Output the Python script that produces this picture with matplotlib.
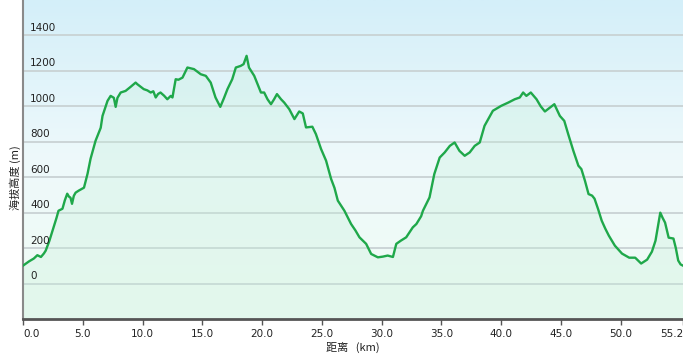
import numpy as np
import matplotlib
matplotlib.use("Agg")
import matplotlib.pyplot as plt
from matplotlib.colors import LinearSegmentedColormap

plt.rcParams['font.family'] = ['DejaVu Sans', 'Noto Sans CJK SC']

# elevation profile (km, m)
dist = [0.0, 0.5, 0.9, 1.2, 1.5, 1.75, 1.9, 2.2, 2.55, 2.8, 2.97, 3.3, 3.5, 3.7,
        3.85, 3.97, 4.1, 4.25, 4.4, 4.65, 4.95, 5.1, 5.4, 5.65, 6.07, 6.5, 6.65,
        7.07, 7.33, 7.6, 7.75, 7.9, 8.17, 8.58, 9.0, 9.42, 9.56, 10.1, 10.4,
        10.68, 10.9, 11.1, 11.3, 11.5, 11.8, 12.07, 12.36, 12.5, 12.77, 13.0,
        13.34, 13.75, 14.3, 14.6, 14.87, 15.29, 15.7, 16.1, 16.5, 16.8, 17.1,
        17.5, 17.8, 18.2, 18.45, 18.7, 18.9, 19.34, 19.9, 20.17, 20.45, 20.74,
        21.0, 21.24, 21.58, 21.85, 22.27, 22.7, 23.1, 23.4, 23.67, 24.2, 24.5,
        24.93, 25.35, 25.77, 26.05, 26.33, 26.88, 27.44, 27.8, 28.14, 28.7,
        29.12, 29.68, 30.1, 30.5, 30.94, 31.22, 31.6, 32.05, 32.6, 32.9, 33.3,
        33.45, 34.0, 34.4, 34.85, 35.27, 35.7, 36.1, 36.5, 36.94, 37.36, 37.78,
        38.2, 38.6, 39.3, 40.0, 40.58, 41.13, 41.55, 41.83, 42.1, 42.47, 42.95,
        43.3, 43.65, 44.07, 44.44, 44.9, 45.27, 45.6, 46.03, 46.45, 46.7, 47.0,
        47.3, 47.6, 47.8, 48.1, 48.4, 48.7, 49.0, 49.5, 50.1, 50.7, 51.2, 51.7,
        52.2, 52.6, 52.9, 53.1, 53.3, 53.5, 53.7, 54.0, 54.4, 54.6, 54.8, 55.0,
        55.2]
elev = [101, 125, 141, 160, 150, 170, 186, 240, 316, 370, 411, 422, 470, 507,
        490, 485, 450, 495, 513, 524, 535, 541, 620, 704, 806, 879, 946,
        1031, 1059, 1048, 997, 1048, 1078, 1087, 1110, 1134, 1125, 1097, 1090,
        1078, 1085, 1050, 1070, 1078, 1060, 1040, 1059, 1050, 1153, 1150,
        1162, 1219, 1210, 1195, 1181, 1172, 1134, 1050, 997, 1045, 1097,
        1153, 1219, 1228, 1238, 1285, 1219, 1172, 1078, 1078, 1040, 1012,
        1040, 1069, 1040, 1021, 984, 928, 971, 960, 881, 885, 843,
        759, 693, 590, 540, 468, 411, 336, 300, 261, 224,
        167, 148, 152, 158, 150, 224, 242, 261, 317, 336, 380,
        411, 486, 618, 711, 740, 777, 796, 749, 721, 740, 777,
        796, 890, 975, 1003, 1021, 1040, 1050, 1078, 1059, 1078, 1040,
        1000, 971, 993, 1012, 946, 918, 843, 749, 665, 646, 580,
        505, 496, 479, 420, 355, 310, 270, 214, 169, 146, 146, 113,
        135, 180, 242, 320, 400, 370, 344, 259, 254, 200, 130, 108,
        101]

x_ticks = [0, 5, 10, 15, 20, 25, 30, 35, 40, 45, 50, 55.2]
x_labels = ['0.0', '5.0', '10.0', '15.0', '20.0', '25.0', '30.0', '35.0',
            '40.0', '45.0', '50.0', '55.2']
y_ticks = [0, 200, 400, 600, 800, 1000, 1200, 1400]

x_max = 55.2
y_min, y_max = -200, 1600

fig = plt.figure(figsize=(6.83, 3.61), dpi=100)
ax = fig.add_axes([23 / 683, 42 / 361, 1 - 23 / 683, 1 - 42 / 361])

# sky-like background gradient
bg = LinearSegmentedColormap.from_list('bg', ['#f0fcf4', '#eef9fb', '#d4eff9'])
grad = np.linspace(0, 1, 256).reshape(-1, 1)
ax.imshow(grad, cmap=bg, origin='lower', aspect='auto',
          extent=[0, x_max, y_min, y_max], zorder=0)

for v in y_ticks:
    ax.axhline(v, color='#c9d2d4', lw=1.3, zorder=1)
    ax.text(0.6, v + 14, str(v), fontsize=7.5, color='#222222',
            va='bottom', ha='left', zorder=4)

ax.fill_between(dist, elev, y_min, color='#c4f0da', alpha=0.3, lw=0, zorder=2)
ax.plot(dist, elev, color='#1fa84a', lw=1.7, zorder=3)

ax.set_xlim(0, x_max)
ax.set_ylim(y_min, y_max)
ax.set_yticks([])
ax.set_xticks(x_ticks)
ax.set_xticklabels(x_labels, fontsize=7.5, color='#222222')
lbls = ax.get_xticklabels()
lbls[0].set_ha('left')
lbls[-1].set_ha('right')
ax.tick_params(axis='x', direction='out', length=4, width=1, color='#555555', pad=3)

for s in ['top', 'right']:
    ax.spines[s].set_visible(False)
ax.spines['left'].set_color('#8a8a8a')
ax.spines['left'].set_linewidth(1.5)
ax.spines['bottom'].set_color('#555555')
ax.spines['bottom'].set_linewidth(2)

ax.set_xlabel('距离   (km)', fontsize=8, color='#222222', labelpad=2,
              family=['Noto Sans CJK SC', 'DejaVu Sans'])
fig.text(15 / 683, 1 - 178 / 361, '海拔高度 (m)', rotation=90, fontsize=8,
         color='#222222', ha='center', va='center',
         family=['Noto Sans CJK SC', 'DejaVu Sans'])

fig.savefig('out.png', dpi=100)
